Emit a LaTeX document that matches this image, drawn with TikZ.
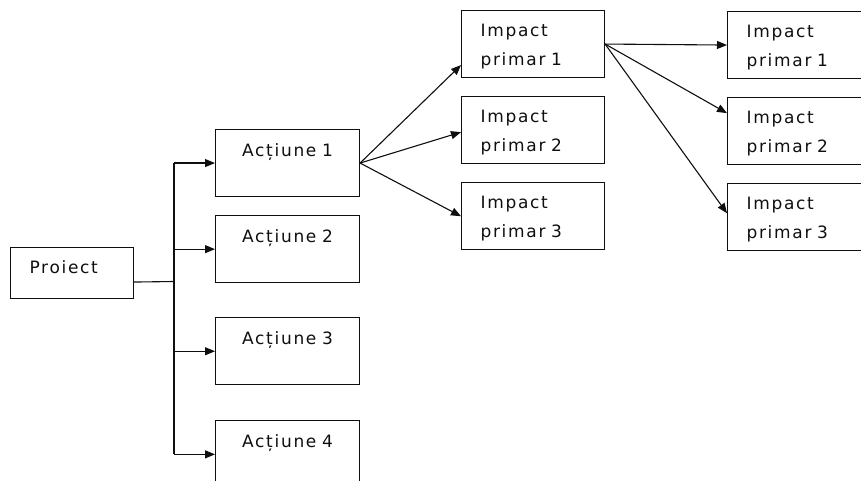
\documentclass[tikz,border=0pt]{standalone}
\usepackage{fontspec}
\usetikzlibrary{arrows.meta,positioning}
\newfontfamily\boxfont{DejaVu Sans}[LetterSpace=10]
\definecolor{ink}{RGB}{15,15,15}
\tikzset{
  every picture/.style={color=ink, line width=1.1pt, font={\boxfont\fontsize{17}{29}\selectfont}},
  node distance=18pt,
  box/.style={draw=ink, line width=1.1pt, rectangle, inner ysep=0pt},
  start/.style={box, inner xsep=19pt, text width=85pt, align=left, text height=26pt, text depth=25pt},
  action/.style={box, inner xsep=0pt, text width=144pt, align=center, text height=27pt, text depth=40pt},
  impact/.style={box, inner xsep=19pt, text width=105pt, align=left, text height=26pt, text depth=41pt},
  flow/.style={-{Triangle[length=10pt,width=8pt]}},
}

\begin{document}
\begin{tikzpicture}[x=1pt, y=-1pt]
  \clip (0,0) rectangle (861,481);
  % project
  \node[start, anchor=north west] (P) at (10,247) {Proiect};
  % actions
  \node[action, anchor=north west] (A1) at (215,129) {Acțiune 1};
  \node[action, below=18pt of A1] (A2) {Acțiune 2};
  \node[action, below=34pt of A2] (A3) {Acțiune 3};
  \node[action, below=35pt of A3] (A4) {Acțiune 4};
  % primary impacts of action 1
  \node[impact, anchor=north west] (I1) at (461,10) {Impact\\primar 1};
  \node[impact, below=of I1] (I2) {Impact\\primar 2};
  \node[impact, below=of I2] (I3) {Impact\\primar 3};
  % primary impacts of impact 1
  \node[impact, anchor=north west] (J1) at (727,11) {Impact\\primar 1};
  \node[impact, below=of J1] (J2) {Impact\\primar 2};
  \node[impact, below=of J2] (J3) {Impact\\primar 3};

  % tree from the project
  \coordinate (fork) at (174,281.5);
  \draw ([yshift=-9pt]P.east) -- (fork);
  \draw (fork |- A1.west) -- (fork |- A4.west);
  \foreach \i in {1,...,4} { \draw[flow] (fork |- A\i.west) -- (A\i.west); }

  \draw[flow] (A1.east) -- ([yshift=-21pt]I1.west);
  \draw[flow] (A1.east) -- ([yshift=-2pt]I2.west);
  \draw[flow] (A1.east) -- (I3.west);

  \draw[flow] (I1.east) -- (J1.west);
  \draw[flow] (I1.east) -- ([yshift=18pt]J2.west);
  \draw[flow] (I1.east) -- ([yshift=4pt]J3.west);
\end{tikzpicture}
\end{document}
